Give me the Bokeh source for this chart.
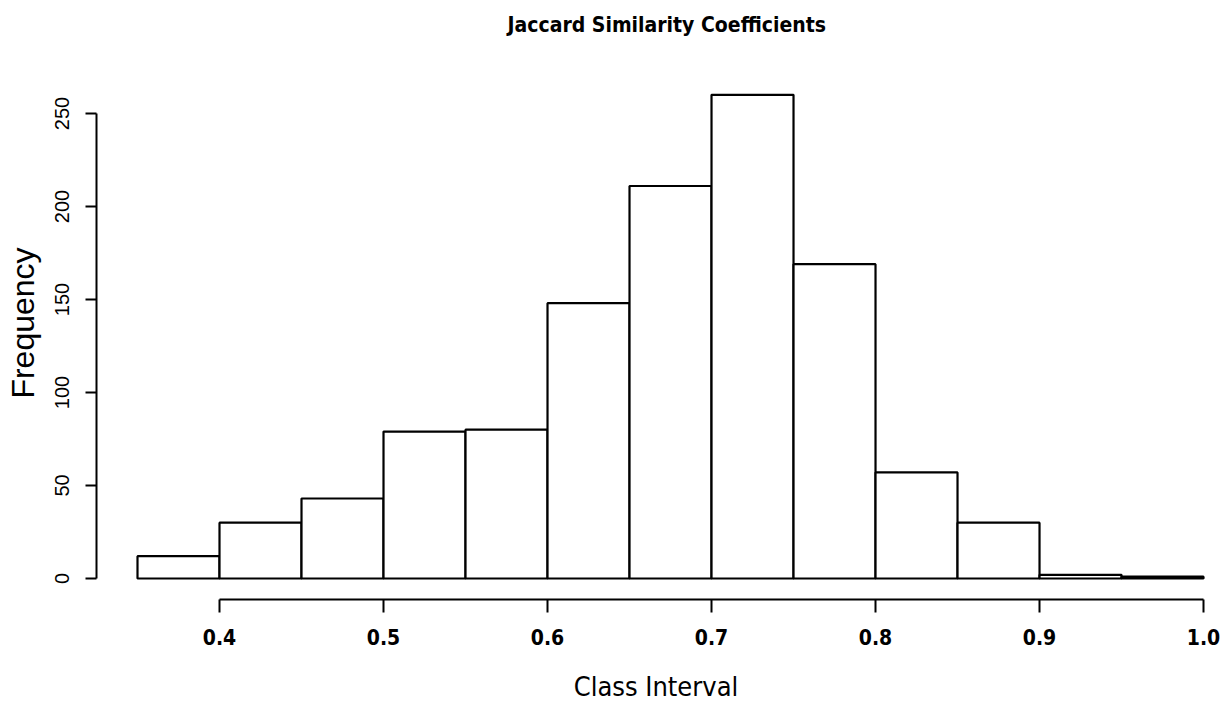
from bokeh.plotting import figure
from bokeh.models import FixedTicker, CustomJSTickFormatter, Range1d
from bokeh.embed import file_html
from bokeh.resources import INLINE

# histogram data
bin_edges = [0.35, 0.40, 0.45, 0.50, 0.55, 0.60, 0.65, 0.70, 0.75, 0.80, 0.85, 0.90, 0.95, 1.00]
counts = [12, 30, 43, 79, 80, 148, 211, 260, 169, 57, 30, 2, 1]
x_ticks = [0.4, 0.5, 0.6, 0.7, 0.8, 0.9, 1.0]
y_ticks = [0, 50, 100, 150, 200, 250]

title_text = "Jaccard Similarity Coefficients"
x_label = "Class Interval"
y_label = "Frequency"

NARROW = "'DejaVu Sans Condensed', 'Liberation Sans Narrow', 'Liberation Sans', sans-serif"
SANS = "Liberation Sans"

p = figure(width=1226, height=704, output_backend="svg", toolbar_location=None,
           x_range=Range1d(0.325, 1.0073), y_range=Range1d(-11.29, 286.0),
           min_border_left=96, min_border_right=11, min_border_top=46, min_border_bottom=105)

p.quad(left=bin_edges[:-1], right=bin_edges[1:], bottom=0, top=counts,
       fill_color="white", line_color="black", line_width=2.2)

p.title.text = title_text
p.title.align = "left"
p.title.text_font = NARROW
p.title.text_font_style = "bold"
p.title.text_font_size = "21px"
p.title.text_color = "black"
p.title.standoff = 20
p.title.offset = 411

p.grid.visible = False
p.outline_line_color = None
p.background_fill_color = "white"
p.border_fill_color = "white"

xa = p.xaxis[0]
xa.ticker = FixedTicker(ticks=x_ticks)
xa.bounds = (x_ticks[0], x_ticks[-1])
xa.formatter = CustomJSTickFormatter(code="return tick.toFixed(1);")
xa.minor_tick_line_color = None
xa.major_tick_in = 0
xa.major_tick_out = 13
xa.major_label_standoff = 16
xa.axis_line_width = 2
xa.major_tick_line_width = 2
xa.major_label_text_font = NARROW
xa.major_label_text_font_style = "bold"
xa.major_label_text_font_size = "21px"
xa.major_label_text_color = "black"
xa.axis_label = x_label
xa.axis_label_text_font = NARROW
xa.axis_label_text_font_style = "normal"
xa.axis_label_text_font_size = "27px"
xa.axis_label_standoff = 23
xa.axis_label_text_color = "black"

ya = p.yaxis[0]
ya.ticker = FixedTicker(ticks=y_ticks)
ya.bounds = (y_ticks[0], y_ticks[-1])
ya.minor_tick_line_color = None
ya.major_tick_in = 0
ya.major_tick_out = 11
ya.major_label_standoff = 16
ya.major_label_orientation = "vertical"
ya.axis_line_width = 2
ya.major_tick_line_width = 2
ya.major_label_text_font = SANS
ya.major_label_text_font_size = "20px"
ya.major_label_text_color = "black"
ya.axis_label = y_label
ya.axis_label_text_font = SANS
ya.axis_label_text_font_style = "normal"
ya.axis_label_text_font_size = "32px"
ya.axis_label_standoff = 12
ya.axis_label_text_color = "black"

open("out.html", "w").write(file_html(p, INLINE))
